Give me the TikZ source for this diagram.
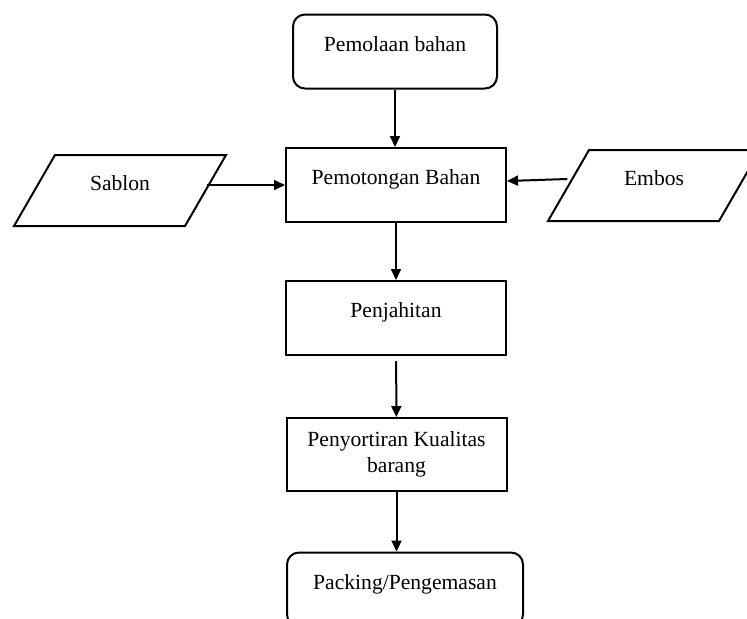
\documentclass[tikz,border=0pt]{standalone}
\usepackage{fontspec}
\setmainfont{Liberation Serif}
\usepackage{tikz}
\usetikzlibrary{arrows.meta}
\usetikzlibrary{shapes.geometric}

\begin{document}
\begin{tikzpicture}[x=0.5pt, y=-0.5pt,
	box/.style={draw, line width=1pt, minimum width=110pt, minimum height=37pt, inner sep=2pt, font=\fontsize{10.8}{13}\selectfont},
	roundbox/.style={box, rounded corners=6pt},
	databox/.style={draw, line width=1pt, trapezium, trapezium left angle=60, trapezium right angle=120, trapezium stretches body=true, minimum width=106pt, inner xsep=2pt, inner ysep=10pt, font=\fontsize{10.8}{13}\selectfont},
	oneline/.style={text height=7.5pt, text depth=8pt},
	arr/.style={-{Triangle[length=5.5pt, width=5pt]}, line width=1pt}]
	\useasboundingbox (0, 0) rectangle (747, 618);

	\node[roundbox, minimum width=102pt, oneline] (mulai) at (395, 51.5) {Pemolaan bahan};
	\node[box, oneline] (potong) at (396, 185) {Pemotongan Bahan};
	\node[databox, oneline] (sablon) at (120, 190.5) {Sablon};
	\node[databox, oneline] (embos) at (654, 185.5) {Embos};
	\node[box, oneline] (jahit) at (396, 318) {Penjahitan};
	\node[box, align=center, minimum height=36.5pt] (sortir) at (396.5, 454.5) {Penyortiran Kualitas\\barang};
	\node[roundbox, minimum width=118pt, oneline] (packing) at (405, 589.5) {Packing/Pengemasan};

	\draw[arr] (mulai.south) -- (mulai.south |- potong.north);
	\draw[arr] (sablon.east |- potong.west) -- (potong.west);
	\draw[arr] ([yshift=3.25pt]embos.west) -- ([yshift=2pt]potong.east);
	\draw[arr] (potong) -- (jahit);
	\draw[arr, shorten <=2.5pt] (jahit) -- (sortir);
	\draw[arr] (sortir.south) -- (sortir.south |- packing.north);

\end{tikzpicture}
\end{document}
